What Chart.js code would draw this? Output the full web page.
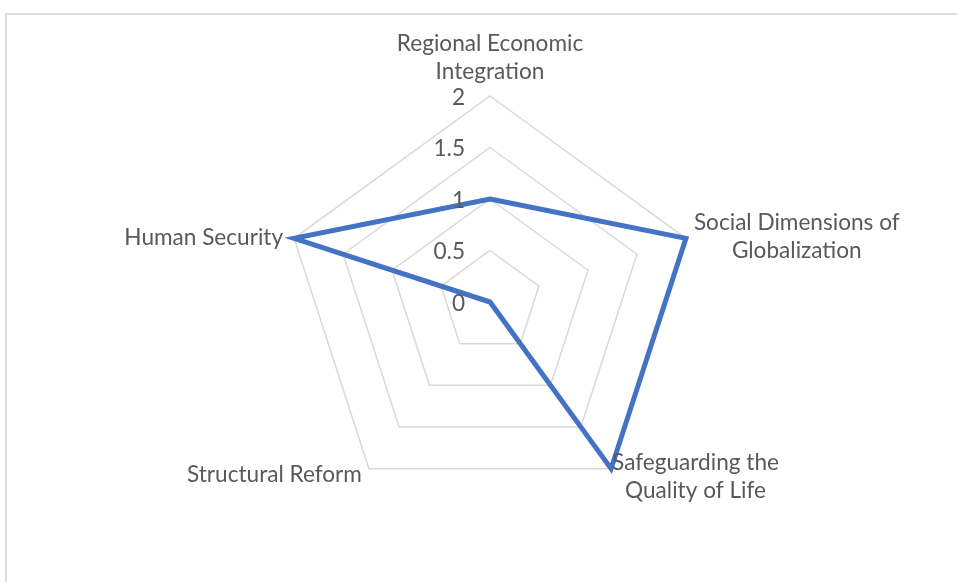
<!DOCTYPE html>
<html>
<head>
<meta charset="utf-8">
<script src="https://cdn.jsdelivr.net/npm/chart.js@4"></script>
<style>
  html, body { margin: 0; padding: 0; background: #fff; overflow: hidden; }
  #frame { position: absolute; left: 5px; top: 13px; width: 1000px; height: 620px; border: 2px solid #dcdcdc; box-sizing: border-box; }
  #radar { position: absolute; left: 0; top: 0; }
</style>
</head>
<body>
<div id="frame"></div>
<canvas id="radar" width="957" height="582"></canvas>
<script>
const categories = [
    ['Regional Economic', 'Integration'],
    ['Social Dimensions of', 'Globalization'],
    ['Safeguarding the', 'Quality of Life'],
    ['Structural Reform'],
    ['Human Security']
];
const values = [1, 2, 2, 0, 2];
const tickValues = [0, 0.5, 1, 1.5, 2];
const tickLabels = ['0', '0.5', '1', '1.5', '2'];

// where each category label sits relative to its outer vertex
const labelPlacement = [
    { align: 'center', dx: 0, dy: -38 },
    { align: 'left', dx: 8, dy: -2 },
    { align: 'left', dx: 1, dy: 8 },
    { align: 'right', dx: -7, dy: 6 },
    { align: 'right', dx: -11, dy: -1 }
];

const textColor = '#595959';
const fontFamily = 'Lato, "Open Sans", sans-serif';
const fontSize = 22.6;
const lineHeight = 28;

const excelLabels = {
    id: 'excelLabels',
    afterDraw(chart) {
        const scale = chart.scales.r;
        const ctx = chart.ctx;
        ctx.save();
        ctx.fillStyle = textColor;
        ctx.font = fontSize + 'px ' + fontFamily;
        ctx.textBaseline = 'middle';

        // tick labels, left of the vertical axis
        ctx.textAlign = 'right';
        tickValues.forEach((v, i) => {
            const d = scale.getDistanceFromCenterForValue(v);
            ctx.fillText(tickLabels[i], scale.xCenter - 25, scale.yCenter - d + 1.5);
        });

        // category labels
        ctx.textAlign = 'center';
        categories.forEach((lines, i) => {
            const p = scale.getPointPosition(i, scale.drawingArea);
            const place = labelPlacement[i];
            const w = Math.max(...lines.map(l => ctx.measureText(l).width));
            let cx = p.x + place.dx;
            if (place.align === 'left') cx += w / 2;
            if (place.align === 'right') cx -= w / 2;
            const h = lines.length * lineHeight;
            const top = p.y + place.dy - h / 2;
            lines.forEach((l, j) => {
                ctx.fillText(l, cx, top + lineHeight * (j + 0.5));
            });
        });
        ctx.restore();
    }
};

const ctx = document.getElementById('radar').getContext('2d');
new Chart(ctx, {
    type: 'radar',
    data: {
        labels: categories,
        datasets: [{
            data: values,
            fill: false,
            borderColor: '#4472C4',
            borderWidth: 5,
            pointRadius: 0,
            pointHoverRadius: 0,
            tension: 0
        }]
    },
    options: {
        responsive: false,
        animation: false,
        layout: {
            padding: { top: 96, bottom: 74, left: 100, right: 77 }
        },
        plugins: {
            legend: { display: false },
            tooltip: { enabled: false }
        },
        scales: {
            r: {
                min: 0,
                max: 2,
                ticks: { display: false, stepSize: 0.5 },
                pointLabels: { display: false },
                angleLines: { display: false },
                grid: { color: '#d9d9d9', lineWidth: 1.5 }
            }
        }
    },
    plugins: [excelLabels]
});
</script>
</body>
</html>
